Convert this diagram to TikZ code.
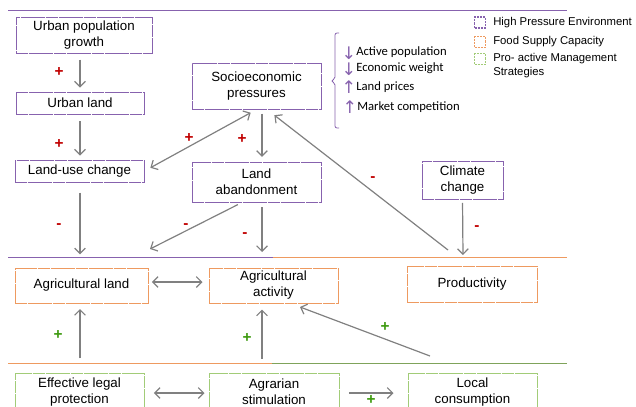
\documentclass[tikz,border=0pt]{standalone}
\usepackage{fontspec}
\setmainfont{Liberation Sans}
\newfontfamily\calfont{Carlito}
\newfontfamily\symfont{DejaVu Sans}
\usetikzlibrary{arrows.meta, positioning, calc}
\definecolor{hpe}{HTML}{8762AE}
\definecolor{fsc}{HTML}{EE9A60}
\definecolor{pms}{HTML}{A2CC78}
\definecolor{pmsline}{HTML}{7FA35A}
\definecolor{arrgray}{HTML}{808080}
\definecolor{minusred}{HTML}{C00000}
\definecolor{plusgreen}{HTML}{3E9A10}

\begin{document}
\begin{tikzpicture}[x=0.75pt, y=-0.75pt, font=\fontsize{10}{12}\selectfont,
  box/.style={draw, line width=0.75pt, dash pattern=on 9pt off 0.5pt,
              align=center, inner sep=1pt},
  sz/.style 2 args={minimum width=#1*0.75pt, minimum height=#2*0.75pt},
  hbox/.style={box, draw=hpe},
  fbox/.style={box, draw=fsc},
  pbox/.style={box, draw=pms},
  tip/.tip={Straight Barb[length=4pt, width=8pt, line width=0.9pt]},
  arr/.style={draw=arrgray, line width=0.9pt, -tip},
  darr/.style={arr, tip-tip},
  sgm/.style={text=minusred, font=\bfseries\fontsize{11.5}{11.5}\selectfont},
  sgp/.style={text=plusgreen, font=\bfseries\fontsize{11.5}{11.5}\selectfont},
  key/.style={draw, line width=0.8pt, dash pattern=on 1.6pt off 0.8pt,
              minimum size=8.25pt, inner sep=0pt},
  keytxt/.style={anchor=west, inner sep=0pt, font=\fontsize{8.5}{10.5}\selectfont},
  item/.style={anchor=west, inner sep=0pt, font=\calfont\fontsize{9.5}{11}\selectfont},
  updn/.style={text=hpe, inner sep=0pt, font=\symfont\fontsize{13}{13}\selectfont}]
\clip (0,0) rectangle (636,407);

% bands
\draw[hpe, line width=0.7pt] (8,10) -- (567,10);
\draw[hpe, line width=0.7pt] (8,257) -- (273,257);
\draw[fsc, line width=0.7pt] (273,257) -- (567,257);
\draw[fsc, line width=0.7pt] (8,363) -- (272,363);
\draw[pmsline, line width=0.7pt] (272,363) -- (567,363);

% high pressure environment
\node[hbox, sz={136}{36}] (upg) at (84,35) {Urban population\\growth};
\node[hbox, sz={128}{22}] (ul)  at (80,103) {Urban land};
\node[hbox, sz={129}{22}] (luc) at (79.5,171) {Land-use change};
\node[hbox, sz={129}{46}] (sep) at (256.5,86) {Socioeconomic\\pressures};
\node[hbox, sz={129}{40}] (la)  at (256.5,182) {Land\\abandonment};
\node[hbox, sz={81}{38}]  (cc)  at (462.5,180) {Climate\\change};

% food supply capacity
\node[fbox, sz={133}{35}] (agl)  at (81.5,285.5) {Agricultural land};
\node[fbox, sz={129}{35}] (aga)  at (273.5,285.5) {Agricultural\\activity};
\node[fbox, sz={130}{36}] (prod) at (472,284) {Productivity};

% pro-active management strategies
\node[pbox, sz={129}{38}] (elp) at (79.5,392) {Effective legal\\protection};
\node[pbox, sz={130}{38}] (ags) at (274,392) {Agrarian\\stimulation};
\node[pbox, sz={129}{38}] (lc)  at (472.5,392) {Local\\consumption};

\coordinate (aglin) at (150,249);
\coordinate (lain)  at (262,252);
\coordinate (ccin)  at (463,255);
\coordinate (prodtop) at (448,250);
\coordinate (lcout) at (430,356);
\coordinate (again) at (300,307);

\draw[arr, shorten <=4.5pt, shorten >=3pt] (upg.south -| ul.north) -- (ul.north);
\draw[arr, shorten <=5pt, shorten >=3pt] (ul.south) -- (ul.south |- luc.north);
\draw[darr, shorten <=5pt, shorten >=5pt] (sep.south) -- (luc.east);
\draw[arr, shorten <=3pt, shorten >=3.5pt] ($(sep.south)+(5.5,0)$) -- ($(la.north)+(5.5,0)$);
\draw[arr, shorten <=7.5pt, shorten >=2pt] (luc.south) ++(0.5,0) -- (80,257);
\draw[arr, shorten <=3.5pt] ($(la.south)+(-14.5,0)$) -- (aglin);
\draw[arr, shorten <=3.5pt] ($(la.south)+(5.5,0)$) -- (lain);
\draw[arr, shorten <=2.5pt] (cc.south) -- (ccin);
\draw[arr, shorten >=7pt] (prodtop) -- ($(sep.south)+(10.5,0)$);
\draw[darr, shorten <=2.5pt, shorten >=4.5pt] ($(agl.east)+(0,-3.5)$) -- ($(aga.west)+(0,-3.5)$);
\draw[arr, shorten <=11pt, shorten >=4.5pt] (80,373) -- (80,303);
\draw[arr, shorten <=10.5pt, shorten >=4.5pt] ($(ags.north)+(-12,0)$) -- ($(aga.south)+(-11.5,0)$);
\draw[arr] (lcout) -- (again);
\draw[darr, shorten <=7pt, shorten >=3pt] ($(elp.east)+(0,1)$) -- ($(ags.west)+(0,1)$);
\draw[arr, shorten <=7pt, shorten >=10.5pt] ($(ags.east)+(0,1)$) -- ($(lc.west)+(0,1)$);

% signs
\foreach \x/\y in {59/72, 59/144, 189/138, 242/139}
  \node[sgm] at (\x,\y) {+};
\foreach \x/\y in {59/226, 186/226, 245/235, 373/179, 477/228}
  \node[sgm] at (\x,\y) {-};
\foreach \x/\y in {58/335, 247/338, 385/327, 371/400}
  \node[sgp] at (\x,\y) {+};

% socioeconomic pressures detail
\draw[hpe, line width=0.6pt, rounded corners=1.5pt]
  (339,33) -- (335,33) -- (335,79) -- (331,81) -- (335,83) -- (335,128) -- (339,128);
\node[updn] (a1) at (349,53) {↓};
\node[updn] (a2) at (349,69) {↓};
\node[updn] (a3) at (349,87) {↑};
\node[updn] (a4) at (350,107) {↑};
\node[item] (ap) at (356,52) {Active population};
\node[item] (ew) at (356,68) {Economic weight};
\node[item] (lp) at (356,87) {Land prices};
\node[item] (mc) at (357,107) {Market competition};

% legend
\node[key, draw=hpe] (k1) at (480,22.5) {};
\node[key, draw=fsc] (k2) at (480,42) {};
\node[key, draw=pms] (k3) at (480,59) {};
\node[keytxt] at (493,22.5) {High Pressure Environment};
\node[keytxt] at (493,42) {Food Supply Capacity};
\node[keytxt, anchor=north west, align=left] at (493,53.5) {Pro- active Management\\Strategies};
\end{tikzpicture}
\end{document}
